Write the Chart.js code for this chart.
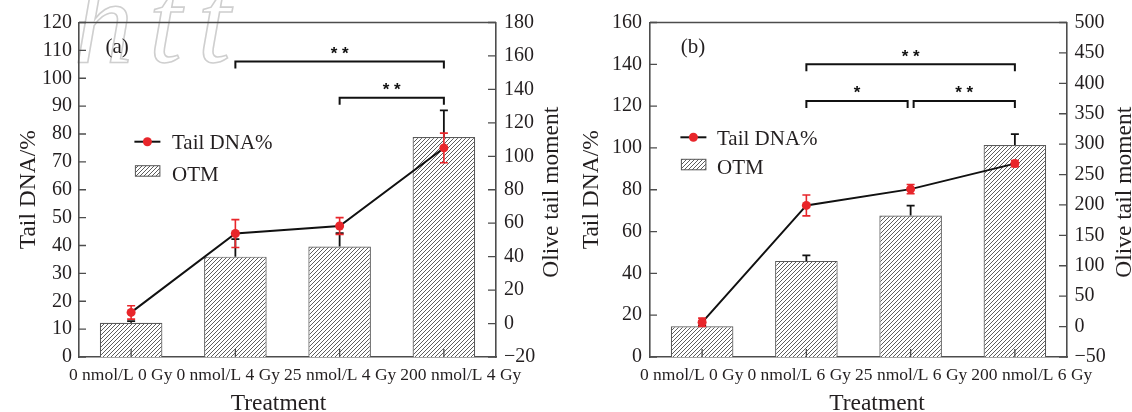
<!DOCTYPE html>
<html>
<head>
<meta charset="utf-8">
<script src="https://cdn.jsdelivr.net/npm/chart.js@4.4.1/dist/chart.umd.min.js"></script>
<style>
  html, body { margin: 0; padding: 0; background: #fff; }
  #wrap { position: relative; width: 1132px; height: 412px; overflow: hidden; }
  .panel { position: absolute; top: 0; width: 566px; height: 412px; }
  #pa { left: 0; }
  #pb { left: 566px; }
</style>
</head>
<body>
<div id="wrap">
  <div class="panel" id="pa"><canvas id="chartA"></canvas></div>
  <div class="panel" id="pb"><canvas id="chartB"></canvas></div>
</div>
<script>
// panel (a): 4 Gy
var treatmentsA = ["0 nmol/L 0 Gy", "0 nmol/L 4 Gy", "25 nmol/L 4 Gy", "200 nmol/L 4 Gy"];
var tailDnaA = [16, 44.3, 47, 75];
var tailDnaErrA = [2.4, 5, 3, 5.3];
var otmA = [0.5, 40, 46, 111.5];
var otmErrA = [1, 10.5, 8, 16];
// [from, to, level on Tail DNA axis, mark]
var sigA = [[1, 3, 106, "* *"], [2, 3, 93, "* *"]];

// panel (b): 6 Gy
var treatmentsB = ["0 nmol/L 0 Gy", "0 nmol/L 6 Gy", "25 nmol/L 6 Gy", "200 nmol/L 6 Gy"];
var tailDnaB = [16.6, 72.5, 80.3, 92.5];
var tailDnaErrB = [2, 5, 2.2, 1.5];
var otmB = [0.5, 108, 182.5, 298.5];
var otmErrB = [1.5, 9, 16.5, 18];
var sigB = [[1, 3, 140, "* *"], [1, 2, 122.5, "*"], [2, 3, 122.5, "* *"]];

// axis ranges [min, max, step]
var tailAxisA = [0, 120, 10], otmAxisA = [-20, 180, 20];
var tailAxisB = [0, 160, 20], otmAxisB = [-50, 500, 50];

var SERIF = '"Liberation Serif", "Times New Roman", serif';
var TXT = '#231f20';
var AXIS = '#4d4d4d';
var RED = '#e8262b';

function hatch() {
  var c = document.createElement('canvas');
  c.width = 4; c.height = 4;
  var g = c.getContext('2d');
  g.fillStyle = '#fff';
  g.fillRect(0, 0, 4, 4);
  g.strokeStyle = '#333';
  g.lineWidth = 0.8;
  g.beginPath();
  g.moveTo(0, 4); g.lineTo(4, 0);
  g.moveTo(-1, 1); g.lineTo(1, -1);
  g.moveTo(3, 5); g.lineTo(5, 3);
  g.stroke();
  return g.createPattern(c, 'repeat');
}
var HATCH = hatch();

function minus(v) { return String(v).replace('-', '\u2212'); }

// push the category labels apart so they sit in one row without overlapping
function spreadLabels(chart) {
  var xs = chart.scales.x;
  var items = xs.getLabelItems();
  if (!items || !items.length) return;
  var ctx = chart.ctx;
  ctx.save();
  var w = items.map(function (it) { ctx.font = it.font.string; return ctx.measureText(it.label).width; });
  ctx.restore();
  var c = items.map(function (it) { return it.options.translation[0]; });
  for (var k = 0; k < 80; k++) {
    for (var i = 0; i < c.length - 1; i++) {
      var ov = (c[i] + w[i] / 2 + 4) - (c[i + 1] - w[i + 1] / 2);
      if (ov > 0.01) { c[i] -= ov / 2; c[i + 1] += ov / 2; }
    }
  }
  items.forEach(function (it, i) { it.options.translation[0] = c[i]; });
}

function panelPlugin(p) {
  return {
    id: 'decor',
    beforeDraw: function (chart) {
      spreadLabels(chart);
      if (p.watermark) {
        var ctx = chart.ctx;
        ctx.save();
        ctx.font = 'italic 118px ' + SERIF;
        ctx.strokeStyle = '#cfcfcf';
        ctx.lineWidth = 1.6;
        ctx.letterSpacing = '16px';
        ctx.strokeText('htt', 74, 62);
        ctx.restore();
      }
    },
    afterDatasetDraw: function (chart, args) {
      var ctx = chart.ctx, meta;
      ctx.save();
      if (args.index === 1) {
        // OTM error bars, upper side only
        var y2 = chart.scales.y2;
        meta = chart.getDatasetMeta(1);
        ctx.strokeStyle = '#111';
        ctx.lineWidth = 1.8;
        meta.data.forEach(function (bar, i) {
          var top = y2.getPixelForValue(p.otm[i] + p.otmErr[i]);
          ctx.beginPath();
          ctx.moveTo(bar.x, bar.y); ctx.lineTo(bar.x, top);
          ctx.moveTo(bar.x - 4, top); ctx.lineTo(bar.x + 4, top);
          ctx.stroke();
        });
      }
      if (args.index === 0) {
        var y = chart.scales.y;
        meta = chart.getDatasetMeta(0);
        ctx.strokeStyle = RED;
        ctx.lineWidth = 1.6;
        meta.data.forEach(function (pt, i) {
          var hi = y.getPixelForValue(p.tail[i] + p.tailErr[i]);
          var lo = y.getPixelForValue(p.tail[i] - p.tailErr[i]);
          ctx.beginPath();
          ctx.moveTo(pt.x, lo); ctx.lineTo(pt.x, hi);
          ctx.moveTo(pt.x - 4, hi); ctx.lineTo(pt.x + 4, hi);
          ctx.moveTo(pt.x - 4, lo); ctx.lineTo(pt.x + 4, lo);
          ctx.stroke();
        });
      }
      ctx.restore();
    },
    afterDraw: function (chart) {
      var ctx = chart.ctx, a = chart.chartArea;
      var xs = chart.scales.x, y = chart.scales.y, y2 = chart.scales.y2;
      ctx.save();
      // top of the frame and inward ticks
      ctx.strokeStyle = AXIS;
      ctx.lineWidth = 1.6;
      ctx.beginPath();
      ctx.moveTo(a.left, a.top); ctx.lineTo(a.right, a.top);
      ctx.stroke();
      ctx.lineWidth = 1.3;
      ctx.beginPath();
      y.ticks.forEach(function (t) {
        var py = y.getPixelForValue(t.value);
        ctx.moveTo(a.left, py); ctx.lineTo(a.left + 7, py);
      });
      y2.ticks.forEach(function (t) {
        var py = y2.getPixelForValue(t.value);
        ctx.moveTo(a.right - 8, py); ctx.lineTo(a.right, py);
      });
      xs.ticks.forEach(function (t, i) {
        var px = xs.getPixelForValue(i);
        ctx.moveTo(px, a.bottom); ctx.lineTo(px, a.bottom - 8);
      });
      ctx.stroke();

      // significance brackets
      ctx.strokeStyle = '#111';
      ctx.fillStyle = '#111';
      ctx.lineWidth = 2;
      ctx.font = 'bold 17px "Liberation Sans", Arial, sans-serif';
      ctx.textAlign = 'center';
      ctx.textBaseline = 'alphabetic';
      p.sig.forEach(function (s) {
        var x1 = xs.getPixelForValue(s[0]), x2 = xs.getPixelForValue(s[1]);
        p.sig.forEach(function (o) {
          if (o !== s && o[2] === s[2]) {
            if (o[1] === s[0]) x1 += 3;
            if (o[0] === s[1]) x2 -= 3;
          }
        });
        var by = y.getPixelForValue(s[2]);
        ctx.beginPath();
        ctx.moveTo(x1, by + 7); ctx.lineTo(x1, by); ctx.lineTo(x2, by); ctx.lineTo(x2, by + 7);
        ctx.stroke();
        ctx.fillText(s[3], (x1 + x2) / 2, by - 2.5);
      });

      // legend
      var L = p.legend;
      ctx.strokeStyle = '#111';
      ctx.lineWidth = 2;
      ctx.beginPath();
      ctx.moveTo(a.left + L.x, a.top + L.y1); ctx.lineTo(a.left + L.x + 26, a.top + L.y1);
      ctx.stroke();
      ctx.fillStyle = RED;
      ctx.beginPath();
      ctx.arc(a.left + L.x + 13, a.top + L.y1, 4.5, 0, Math.PI * 2);
      ctx.fill();
      ctx.fillStyle = HATCH;
      ctx.fillRect(a.left + L.x + 1, a.top + L.y2, 24.5, 10.5);
      ctx.strokeStyle = '#555';
      ctx.lineWidth = 1;
      ctx.strokeRect(a.left + L.x + 1, a.top + L.y2, 24.5, 10.5);
      ctx.fillStyle = TXT;
      ctx.font = '21px ' + SERIF;
      ctx.textAlign = 'left';
      ctx.fillText('Tail DNA%', a.left + L.tx, a.top + L.y1 + 7.5);
      ctx.fillText('OTM', a.left + L.tx, a.top + L.y2 + 15);

      // panel tag
      ctx.fillText(p.tag, a.left + p.tagX, a.top + 30.5);

      // x title
      ctx.font = '23.5px ' + SERIF;
      ctx.textAlign = 'center';
      ctx.fillText('Treatment', (a.left + a.right) / 2 + p.xTitleShift, 409.5);

      // right title, reading upwards
      ctx.translate(p.rightTitleX, (a.top + a.bottom) / 2 + 2.5);
      ctx.rotate(-Math.PI / 2);
      ctx.fillText('Olive tail moment', 0, 0);
      ctx.restore();
    }
  };
}

function makeChart(id, p) {
  var tickFont = { family: SERIF, size: 20 };
  return new Chart(document.getElementById(id), {
    data: {
      labels: p.labels,
      datasets: [
        {
          type: 'line',
          label: 'Tail DNA%',
          data: p.tail,
          yAxisID: 'y',
          order: 0,
          borderColor: '#111',
          borderWidth: 2,
          pointRadius: 4.5,
          pointBackgroundColor: RED,
          pointBorderColor: RED,
          pointBorderWidth: 0,
          tension: 0
        },
        {
          type: 'bar',
          label: 'OTM',
          data: p.otm,
          yAxisID: 'y2',
          order: 1,
          base: p.otmAxis[0],
          backgroundColor: HATCH,
          borderColor: '#5a5a5a',
          borderWidth: 1.2,
          barPercentage: 0.6,
          categoryPercentage: 1
        }
      ]
    },
    options: {
      responsive: true,
      maintainAspectRatio: false,
      animation: false,
      devicePixelRatio: 1,
      layout: { padding: { top: 22.5, left: 0, right: 0, bottom: 0 } },
      plugins: { legend: { display: false }, tooltip: { enabled: false } },
      scales: {
        x: {
          offset: true,
          grid: { display: false, drawTicks: false },
          border: { display: true, color: AXIS, width: 1.6 },
          ticks: { autoSkip: false, maxRotation: 0, minRotation: 0, padding: 8, color: TXT,
                   font: { family: SERIF, size: 17.5 } },
          afterFit: function (s) { s.height = 55; }
        },
        y: {
          position: 'left',
          min: p.tailAxis[0], max: p.tailAxis[1],
          grid: { display: false, drawTicks: false },
          border: { display: true, color: AXIS, width: 1.6 },
          ticks: { stepSize: p.tailAxis[2], maxTicksLimit: 40, autoSkip: false, padding: p.leftPad,
                   color: TXT, font: tickFont },
          title: { display: true, text: 'Tail DNA/%', color: TXT,
                   font: { family: SERIF, size: 23.5, lineHeight: 1.2 },
                   padding: { top: p.leftTitlePad, bottom: 0 } },
          afterFit: function (s) { s.width = p.leftWidth; }
        },
        y2: {
          position: 'right',
          min: p.otmAxis[0], max: p.otmAxis[1],
          grid: { display: false, drawTicks: false },
          border: { display: true, color: AXIS, width: 1.6 },
          ticks: { stepSize: p.otmAxis[2], maxTicksLimit: 40, autoSkip: false, padding: p.rightPad,
                   color: TXT, font: tickFont, callback: function (v) { return minus(v); } },
          afterFit: function (s) { s.width = p.rightWidth; }
        }
      }
    },
    plugins: [panelPlugin(p)]
  });
}

makeChart('chartA', {
  labels: treatmentsA, tail: tailDnaA, tailErr: tailDnaErrA, otm: otmA, otmErr: otmErrA, sig: sigA,
  tailAxis: tailAxisA, otmAxis: otmAxisA,
  leftWidth: 79, rightWidth: 70, leftPad: 7, rightPad: 8, leftTitlePad: 15,
  rightTitleX: 558, xTitleShift: -9, tag: '(a)', tagX: 26.4, watermark: true,
  legend: { x: 55.4, y1: 119.2, y2: 143.2, tx: 93 }
});

makeChart('chartB', {
  labels: treatmentsB, tail: tailDnaB, tailErr: tailDnaErrB, otm: otmB, otmErr: otmErrB, sig: sigB,
  tailAxis: tailAxisB, otmAxis: otmAxisB,
  leftWidth: 84, rightWidth: 65, leftPad: 8, rightPad: 7.5, leftTitlePad: 11.4,
  rightTitleX: 565, xTitleShift: 18.5, tag: '(b)', tagX: 30.7, watermark: false,
  legend: { x: 30.4, y1: 114.8, y2: 136.8, tx: 67 }
});
</script>
</body>
</html>
